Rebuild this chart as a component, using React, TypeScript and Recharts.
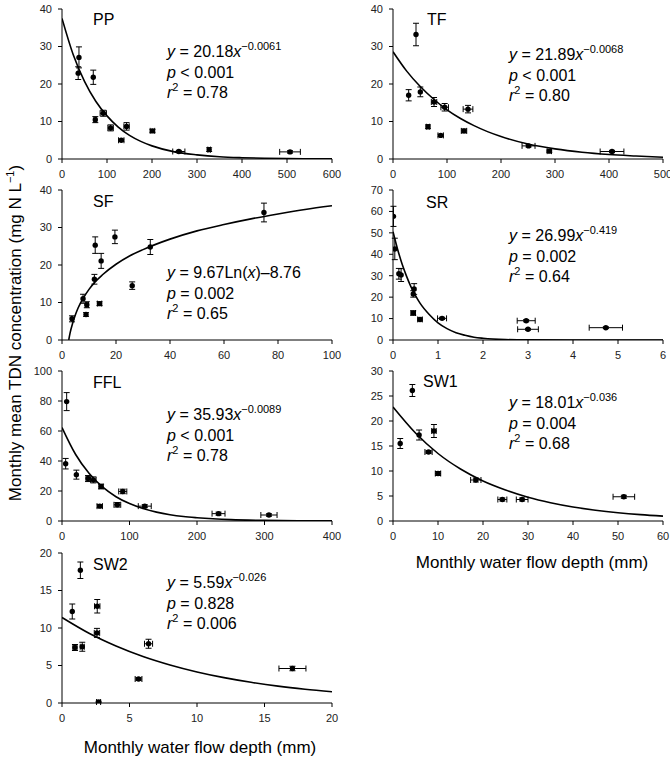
import React from "react";
import { ComposedChart, Scatter, Line, XAxis, YAxis, ErrorBar } from "recharts";

// each point: [flow depth, TDN, x error, y error]
type Pt = [number, number, number, number];
// fitted curve: [flow depth, TDN]
type Fit = [number, number];

const ppPoints: Pt[] = [
  [37.7, 27.1, 0, 2.8], [36, 22.9, 0, 1.7], [69.5, 21.8, 0, 1.9], [74, 10.5, 3, 0.8],
  [91.7, 12.2, 7, 0.8], [108, 8.3, 6, 0.8], [131.7, 5.0, 6, 0.3], [143.5, 8.7, 6, 1],
  [201, 7.5, 5, 0.4], [259.6, 2.0, 13.5, 0.3], [327, 2.5, 3, 0.5], [506.7, 1.9, 23, 0.3],
];
const ppFit: Fit[] = [
  [0, 37.5], [25, 27.8], [50, 20.7], [75, 15.4], [100, 11.5], [125, 8.5], [150, 6.3],
  [175, 4.7], [200, 3.5], [250, 1.9], [300, 1.1], [350, 0.6], [400, 0.35], [450, 0.2],
  [500, 0.1], [550, 0.06], [600, 0.03],
];

const tfPoints: Pt[] = [
  [42.6, 33.2, 0, 3], [29, 17.0, 0, 1.5], [50.6, 17.9, 0, 1.3], [76, 15.2, 5, 1.2],
  [95.7, 13.8, 7, 1], [138.9, 13.3, 9, 1], [64.8, 8.6, 3, 0.5], [88.3, 6.3, 5, 0.3],
  [131.5, 7.5, 5, 0.5], [251, 3.5, 12, 0.3], [289.5, 2.1, 4, 0.3], [405.6, 2.0, 22, 0.3],
];
const tfFit: Fit[] = [
  [0, 28.6], [25, 23.5], [50, 19.4], [75, 16.0], [100, 13.1], [125, 10.8], [150, 8.9],
  [175, 7.3], [200, 6.0], [250, 4.0], [300, 2.7], [350, 1.8], [400, 1.2], [450, 0.8],
  [500, 0.45],
];

const sfPoints: Pt[] = [
  [3.7, 5.65, 0, 0.8], [7.8, 11.0, 0, 1.2], [8.9, 6.8, 0, 0.5], [9.2, 9.4, 0.6, 0.8],
  [12.3, 25.3, 0, 2.2], [12.0, 16.2, 0, 1.3], [14.5, 21.1, 0, 2], [13.9, 9.7, 0.8, 0.5],
  [19.6, 27.5, 0, 1.8], [26.0, 14.5, 0, 1], [32.7, 24.8, 0, 2], [74.8, 34.0, 0, 2.5],
];
const sfFit: Fit[] = [
  [2.5, 0], [3, 1.9], [4, 4.6], [5, 6.8], [6, 8.6], [8, 11.3], [10, 13.5], [12, 15.3],
  [15, 17.4], [20, 20.2], [25, 22.4], [30, 24.1], [40, 26.9], [50, 29.1], [60, 30.8],
  [70, 32.3], [80, 33.6], [90, 34.8], [100, 35.8],
];

const srPoints: Pt[] = [
  [0.01, 57.7, 0, 4.7], [0.04, 42.5, 0, 5], [0.13, 30.9, 0, 2.5], [0.18, 30.3, 0, 3],
  [0.47, 23.8, 0, 2.5], [0.45, 21.5, 0, 1.5], [0.45, 12.6, 0.05, 1], [0.6, 9.6, 0.05, 0.7],
  [1.09, 10.1, 0.1, 0.5], [2.96, 9.0, 0.2, 0.5], [3.0, 5.0, 0.23, 0.4], [4.73, 5.75, 0.37, 0.4],
];
const srFit: Fit[] = [
  [0, 50.5], [0.1, 42.5], [0.2, 35.6], [0.3, 29.8], [0.4, 24.8], [0.5, 20.7], [0.6, 17.2],
  [0.8, 12.0], [1.0, 8.0], [1.2, 5.3], [1.4, 3.4], [1.6, 2.2], [1.8, 1.3], [2.0, 0.8],
  [2.5, 0.2], [3, 0.05], [4, 0.01], [5, 0], [6, 0],
];

const fflPoints: Pt[] = [
  [6.9, 79.6, 0, 6], [5.4, 38.2, 0, 3.5], [21.3, 30.9, 0, 3], [38.6, 28.3, 3, 2],
  [46.5, 27.4, 4, 2], [57.9, 23.0, 3, 1.5], [55.9, 9.9, 4, 1], [82, 10.8, 5, 1.5],
  [90, 19.7, 6, 1.5], [122.6, 9.9, 9.6, 1], [231.9, 4.9, 9.6, 1], [306.6, 4.0, 12, 0.8],
];
const fflFit: Fit[] = [
  [0, 62.3], [20, 44.5], [40, 31.8], [60, 22.7], [80, 16.2], [100, 11.6], [120, 8.3],
  [140, 5.9], [160, 4.2], [180, 3.0], [200, 2.2], [250, 0.9], [300, 0.4], [350, 0.17],
  [400, 0.08],
];

const sw1Points: Pt[] = [
  [1.6, 15.5, 0, 1], [4.3, 26.1, 0, 1.2], [5.8, 17.2, 0, 1], [7.9, 13.8, 0.8, 0.3],
  [9.1, 18.0, 0.5, 1.3], [10.0, 9.5, 0.6, 0.4], [18.4, 8.2, 1.15, 0.4], [24.3, 4.3, 1.0, 0.3],
  [28.7, 4.3, 1.3, 0.3], [51.3, 4.85, 2.4, 0.3],
];
const sw1Fit: Fit[] = [
  [0, 22.8], [5, 17.6], [10, 13.5], [15, 10.4], [20, 8.0], [25, 6.2], [30, 4.75],
  [35, 3.65], [40, 2.8], [45, 2.15], [50, 1.65], [55, 1.27], [60, 0.98],
];

const sw2Points: Pt[] = [
  [1.36, 17.7, 0, 1.1], [0.76, 12.2, 0, 1], [0.96, 7.4, 0.15, 0.4], [1.5, 7.5, 0.15, 0.6],
  [2.61, 12.9, 0.2, 0.9], [2.59, 9.35, 0.2, 0.6], [2.71, 0.13, 0.15, 0.1], [5.67, 3.2, 0.25, 0.2],
  [6.41, 7.9, 0.3, 0.6], [17.07, 4.6, 1, 0.3],
];
const sw2Fit: Fit[] = [
  [0, 11.4], [2, 9.3], [4, 7.6], [6, 6.2], [8, 5.07], [10, 4.14], [12, 3.38], [14, 2.76],
  [16, 2.25], [18, 1.84], [20, 1.5],
];

const FONT = '"Liberation Sans", Arial, sans-serif';
const tickStyle = { fontSize: 11, fill: "#222", fontFamily: FONT };

const dotShape = (p: any) => <circle cx={p.cx} cy={p.cy} r={2.7} fill="#000" />;

function Panel(props: any) {
  const { left, top, points, fit, xMax, xTicks, yMax, yTicks } = props;
  const pts = points.map(([x, y, ex, ey]: Pt) => ({ x, y, ex, ey }));
  const curve = fit.map(([x, y]: Fit) => ({ x, y }));
  return (
    <div style={{ position: "absolute", left: left - 40, top: top - 10 }}>
      <ComposedChart width={330} height={190} margin={{ top: 10, right: 20, bottom: 0, left: 0 }}>
        <XAxis
          type="number"
          dataKey="x"
          domain={[0, xMax]}
          ticks={xTicks}
          interval={0}
          allowDataOverflow
          tick={tickStyle}
          tickSize={4}
          tickMargin={7}
          stroke="#000"
          height={30}
        />
        <YAxis
          type="number"
          dataKey="y"
          domain={[0, yMax]}
          ticks={yTicks}
          interval={0}
          allowDataOverflow
          tick={tickStyle}
          tickSize={4}
          tickMargin={6}
          stroke="#000"
          width={40}
        />
        <Line
          data={curve}
          dataKey="y"
          type="monotone"
          dot={false}
          stroke="#000"
          strokeWidth={1.6}
          isAnimationActive={false}
        />
        <Scatter data={pts} dataKey="y" fill="#000" shape={dotShape} isAnimationActive={false}>
          <ErrorBar dataKey="ex" direction="x" width={3} stroke="#000" strokeWidth={1} />
          <ErrorBar dataKey="ey" direction="y" width={3} stroke="#000" strokeWidth={1} />
        </Scatter>
      </ComposedChart>
    </div>
  );
}

const supStyle: React.CSSProperties = {
  fontSize: 11,
  position: "relative",
  top: -7,
  lineHeight: 0,
  verticalAlign: "baseline",
};

function Eq({ left, top, eq, p, r2 }: any) {
  return (
    <div style={{ position: "absolute", left, top, fontSize: 16, lineHeight: "20.5px", whiteSpace: "nowrap" }}>
      <div>{eq}</div>
      <div>
        <i>p</i> {p}
      </div>
      <div>
        <i>r</i>
        <span style={supStyle}>2</span> = {r2}
      </div>
    </div>
  );
}

const pow = (a: string, b: string) => (
  <>
    <i>y</i> = {a}
    <i>x</i>
    <span style={supStyle}>{b}</span>
  </>
);

function Title({ left, top, text }: any) {
  return (
    <div style={{ position: "absolute", left, top: top - 10, fontSize: 16, lineHeight: "20px" }}>{text}</div>
  );
}

export default function App() {
  return (
    <div
      style={{
        position: "absolute",
        left: 0,
        top: 0,
        width: 670,
        height: 758,
        overflow: "hidden",
        background: "#fff",
        fontFamily: FONT,
        color: "#000",
      }}
    >
      <Panel left={62} top={9} points={ppPoints} fit={ppFit} xMax={600} xTicks={[0, 100, 200, 300, 400, 500, 600]} yMax={40} yTicks={[0, 10, 20, 30, 40]} />
      <Panel left={393} top={9} points={tfPoints} fit={tfFit} xMax={500} xTicks={[0, 100, 200, 300, 400, 500]} yMax={40} yTicks={[0, 10, 20, 30, 40]} />
      <Panel left={62} top={190} points={sfPoints} fit={sfFit} xMax={100} xTicks={[0, 20, 40, 60, 80, 100]} yMax={40} yTicks={[0, 10, 20, 30, 40]} />
      <Panel left={393} top={190} points={srPoints} fit={srFit} xMax={6} xTicks={[0, 1, 2, 3, 4, 5, 6]} yMax={70} yTicks={[0, 10, 20, 30, 40, 50, 60, 70]} />
      <Panel left={62} top={371} points={fflPoints} fit={fflFit} xMax={400} xTicks={[0, 100, 200, 300, 400]} yMax={100} yTicks={[0, 20, 40, 60, 80, 100]} />
      <Panel left={393} top={371} points={sw1Points} fit={sw1Fit} xMax={60} xTicks={[0, 10, 20, 30, 40, 50, 60]} yMax={30} yTicks={[0, 5, 10, 15, 20, 25, 30]} />
      <Panel left={62} top={553} points={sw2Points} fit={sw2Fit} xMax={20} xTicks={[0, 5, 10, 15, 20]} yMax={20} yTicks={[0, 5, 10, 15, 20]} />

      <Title left={93} top={20} text="PP" />
      <Title left={427} top={20} text="TF" />
      <Title left={93} top={202} text="SF" />
      <Title left={426} top={203} text="SR" />
      <Title left={93} top={383} text="FFL" />
      <Title left={423} top={382} text="SW1" />
      <Title left={93} top={565} text="SW2" />

      <Eq left={167} top={42} eq={pow("20.18", "\u22120.0061")} p="< 0.001" r2="0.78" />
      <Eq left={509} top={45} eq={pow("21.89", "\u22120.0068")} p="< 0.001" r2="0.80" />
      <Eq
        left={167}
        top={263}
        eq={
          <>
            <i>y</i> = 9.67Ln(<i>x</i>)&ndash;8.76
          </>
        }
        p="= 0.002"
        r2="0.65"
      />
      <Eq left={509} top={226} eq={pow("26.99", "\u22120.419")} p="= 0.002" r2="0.64" />
      <Eq left={167} top={405} eq={pow("35.93", "\u22120.0089")} p="< 0.001" r2="0.78" />
      <Eq left={509} top={393} eq={pow("18.01", "\u22120.036")} p="= 0.004" r2="0.68" />
      <Eq left={167} top={573} eq={pow("5.59", "\u22120.026")} p="= 0.828" r2="0.006" />

      <div
        style={{
          position: "absolute",
          left: 16,
          top: 333,
          transform: "translate(-50%, -50%) rotate(-90deg)",
          fontSize: 17,
          whiteSpace: "nowrap",
        }}
      >
        Monthly mean TDN concentration (mg N L<span style={{ ...supStyle, fontSize: 11 }}>{"\u22121"}</span>)
      </div>
      <div style={{ position: "absolute", left: 532, top: 563, transform: "translate(-50%, -50%)", fontSize: 17, whiteSpace: "nowrap" }}>
        Monthly water flow depth (mm)
      </div>
      <div style={{ position: "absolute", left: 200, top: 748, transform: "translate(-50%, -50%)", fontSize: 17, whiteSpace: "nowrap" }}>
        Monthly water flow depth (mm)
      </div>
    </div>
  );
}
